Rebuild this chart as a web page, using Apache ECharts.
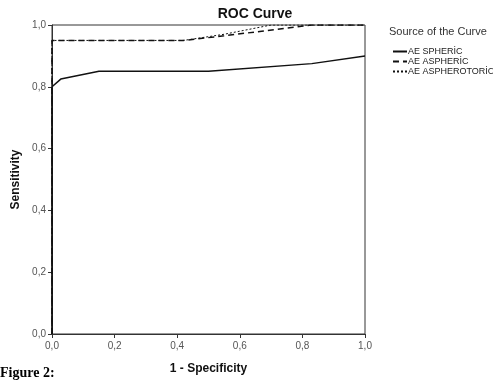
<!DOCTYPE html>
<html>
<head>
<meta charset="utf-8">
<script src="https://cdn.jsdelivr.net/npm/echarts@6/dist/echarts.min.js"></script>
<style>
  html, body { margin: 0; padding: 0; background: #fff; }
  #chart { width: 493px; height: 380px; }
</style>
</head>
<body>
<div id="chart"></div>
<script>
// ROC points: [1 - specificity, sensitivity]
const spheric = [[0, 0], [0, 0.8], [0.028, 0.825], [0.15, 0.85], [0.5, 0.85], [0.83, 0.875], [1, 0.9]]
const aspheric = [[0, 0], [0, 0.95], [0.42, 0.95], [0.55, 0.965], [0.67, 0.98], [0.83, 1], [1, 1]]
const asipherotoric = [[0, 0], [0, 0.95], [0.42, 0.95], [0.55, 0.97], [0.7, 1], [1, 1]]
const seriesNames = ['AE SPHERİC', 'AE ASPHERİC', 'AE ASPHEROTORİC']
const tickFmt = v => v.toFixed(1).replace('.', ',')

const chart = echarts.init(document.getElementById('chart'))
const font = 'Arial, "Liberation Sans", sans-serif'

chart.setOption({
  animation: false,
  title: {
    text: 'ROC Curve',
    left: 250,
    top: 2,
    textAlign: 'center',
    textStyle: { fontFamily: font, fontSize: 14, fontWeight: 'bold', color: '#111' },
  },
  legend: {
    data: seriesNames,
    orient: 'vertical',
    left: 387,
    top: 42,
    itemWidth: 14,
    itemHeight: 8,
    itemGap: 1,
    itemStyle: { opacity: 0 },
    textStyle: { fontFamily: font, fontSize: 9, color: '#222', padding: [0, 0, 0, -4] },
  },
  graphic: [
    {
      type: 'text',
      left: 389,
      top: 26,
      style: { text: 'Source of the Curve', font: '11px ' + font, fill: '#333' },
    },
    {
      type: 'text',
      left: 0,
      top: 366,
      style: { text: 'Figure 2:', font: 'bold 14px "Liberation Serif", "Times New Roman", serif', fill: '#000' },
    },
  ],
  grid: {
    left: 52, right: 128, top: 25, bottom: 44,
    show: true, borderColor: '#333', borderWidth: 1, backgroundColor: 'transparent',
  },
  xAxis: {
    type: 'value',
    min: 0, max: 1, interval: 0.2,
    name: '1 - Specificity',
    nameLocation: 'middle',
    nameGap: 29,
    nameTextStyle: { fontFamily: font, fontSize: 12, fontWeight: 'bold', color: '#111' },
    axisLine: { show: true, lineStyle: { color: '#333', width: 1 } },
    axisTick: { show: true, length: 4, lineStyle: { color: '#333' } },
    axisLabel: { formatter: tickFmt, fontFamily: font, fontSize: 10, color: '#555', margin: 7 },
    splitLine: { show: false },
  },
  yAxis: {
    type: 'value',
    min: 0, max: 1, interval: 0.2,
    name: 'Sensitivity',
    nameLocation: 'middle',
    nameGap: 28,
    nameTextStyle: { fontFamily: font, fontSize: 12, fontWeight: 'bold', color: '#111' },
    axisLine: { show: true, lineStyle: { color: '#333', width: 1 } },
    axisTick: { show: true, length: 4, lineStyle: { color: '#333' } },
    axisLabel: { formatter: tickFmt, fontFamily: font, fontSize: 10, color: '#555', margin: 6 },
    splitLine: { show: false },
  },
  series: [
    {
      name: seriesNames[0],
      type: 'line',
      data: spheric,
      symbol: 'none',
      lineStyle: { color: '#111', width: 1.5, type: 'solid' },
      itemStyle: { color: '#111' },
    },
    {
      name: seriesNames[1],
      type: 'line',
      data: aspheric,
      symbol: 'none',
      lineStyle: { color: '#111', width: 1.5, type: [6, 4] },
      itemStyle: { color: '#111' },
    },
    {
      name: seriesNames[2],
      type: 'line',
      data: asipherotoric,
      symbol: 'none',
      lineStyle: { color: '#111', width: 1, type: [2, 2] },
      itemStyle: { color: '#111' },
    },
  ],
})
</script>
</body>
</html>
